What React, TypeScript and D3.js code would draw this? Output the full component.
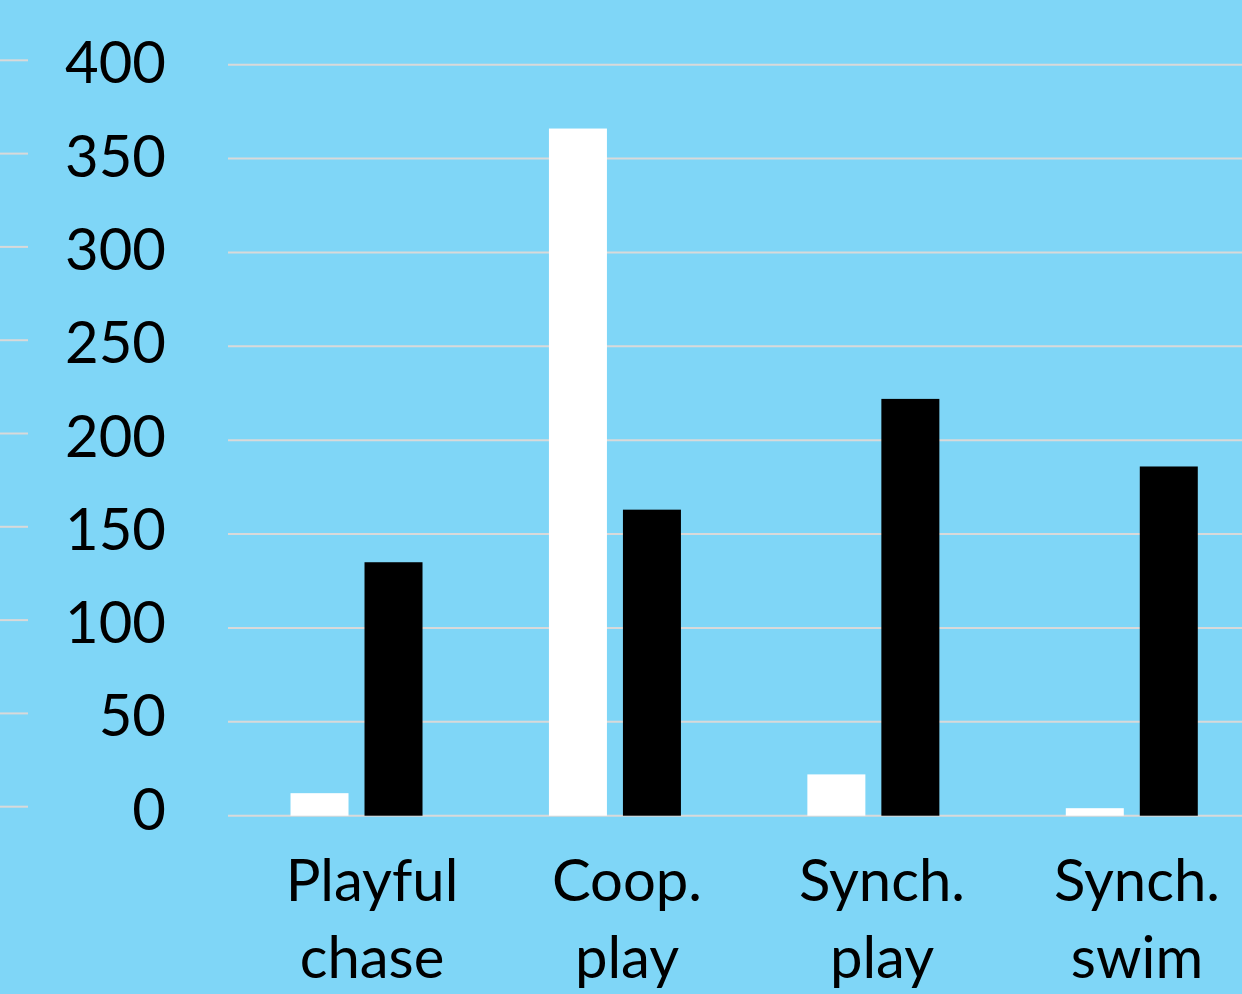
import React from "react";
import * as d3 from "d3";

const categories = ["Playful chase", "Coop. play", "Synch. play", "Synch. swim"];
const labelLines = [["Playful", "chase"], ["Coop.", "play"], ["Synch.", "play"], ["Synch.", "swim"]];
const whiteValues = [12, 366, 22, 4];
const blackValues = [135, 163, 222, 186];
const yTicks = [0, 50, 100, 150, 200, 250, 300, 350, 400];

const WIDTH = 1242;
const HEIGHT = 994;
const BG = "#7fd6f7";
const GRID = "#d9d9d9";
const FONT = "Lato, 'Open Sans', sans-serif";

const App = () => {
  const svgRef = React.useRef<SVGSVGElement>(null);

  React.useEffect(() => {
    const svg = d3.select(svgRef.current);
    svg.selectAll("*").remove();

    svg.append("rect").attr("width", WIDTH).attr("height", HEIGHT).attr("fill", BG);

    const y = d3.scaleLinear().domain([0, 400]).range([815.7, 64.7]);
    // the short ticks on the far left sit a little higher than the grid
    const yLeft = d3.scaleLinear().domain([0, 400]).range([806.7, 60.3]);

    const x = d3.scaleBand<string>().domain(categories).range([227.3, 1261]);
    const labelX = d3.scaleBand<string>().domain(categories).range([244.5, 1264.5]);
    const barW = 58;
    const gap = 16;

    // grid
    svg
      .append("g")
      .selectAll("line")
      .data(yTicks)
      .join("line")
      .attr("x1", 228)
      .attr("x2", WIDTH)
      .attr("y1", d => y(d))
      .attr("y2", d => y(d))
      .attr("stroke", GRID)
      .attr("stroke-width", 2);

    svg
      .append("g")
      .selectAll("line")
      .data(yTicks)
      .join("line")
      .attr("x1", 0)
      .attr("x2", 28)
      .attr("y1", d => yLeft(d))
      .attr("y2", d => yLeft(d))
      .attr("stroke", GRID)
      .attr("stroke-width", 2);

    svg
      .append("g")
      .selectAll("text")
      .data(yTicks)
      .join("text")
      .attr("x", 166)
      .attr("y", d => yLeft(d) + 23)
      .attr("text-anchor", "end")
      .style("font-family", FONT)
      .style("font-size", "58px")
      .attr("fill", "#000")
      .text(d => d);

    const center = (c: string) => (x(c) as number) + x.bandwidth() / 2;

    svg
      .append("g")
      .selectAll("rect")
      .data(categories)
      .join("rect")
      .attr("x", d => center(d) - gap / 2 - barW)
      .attr("y", (d, i) => y(whiteValues[i]))
      .attr("width", barW)
      .attr("height", (d, i) => y(0) - y(whiteValues[i]))
      .attr("fill", "#fff");

    svg
      .append("g")
      .selectAll("rect")
      .data(categories)
      .join("rect")
      .attr("x", d => center(d) + gap / 2)
      .attr("y", (d, i) => y(blackValues[i]))
      .attr("width", barW)
      .attr("height", (d, i) => y(0) - y(blackValues[i]))
      .attr("fill", "#000");

    const labels = svg
      .append("g")
      .selectAll("text")
      .data(categories)
      .join("text")
      .attr("text-anchor", "middle")
      .style("font-family", FONT)
      .style("font-size", "58px")
      .attr("fill", "#000");

    labels
      .selectAll("tspan")
      .data((d, i) => labelLines[i].map(t => ({ t, c: d })))
      .join("tspan")
      .attr("x", d => (labelX(d.c) as number) + labelX.bandwidth() / 2)
      .attr("y", (d, j) => 901 + j * 77)
      .text(d => d.t);
  }, []);

  return (
    <svg
      ref={svgRef}
      width={WIDTH}
      height={HEIGHT}
      style={{ position: "absolute", left: 0, top: 0, display: "block" }}
    />
  );
};

export default App;
